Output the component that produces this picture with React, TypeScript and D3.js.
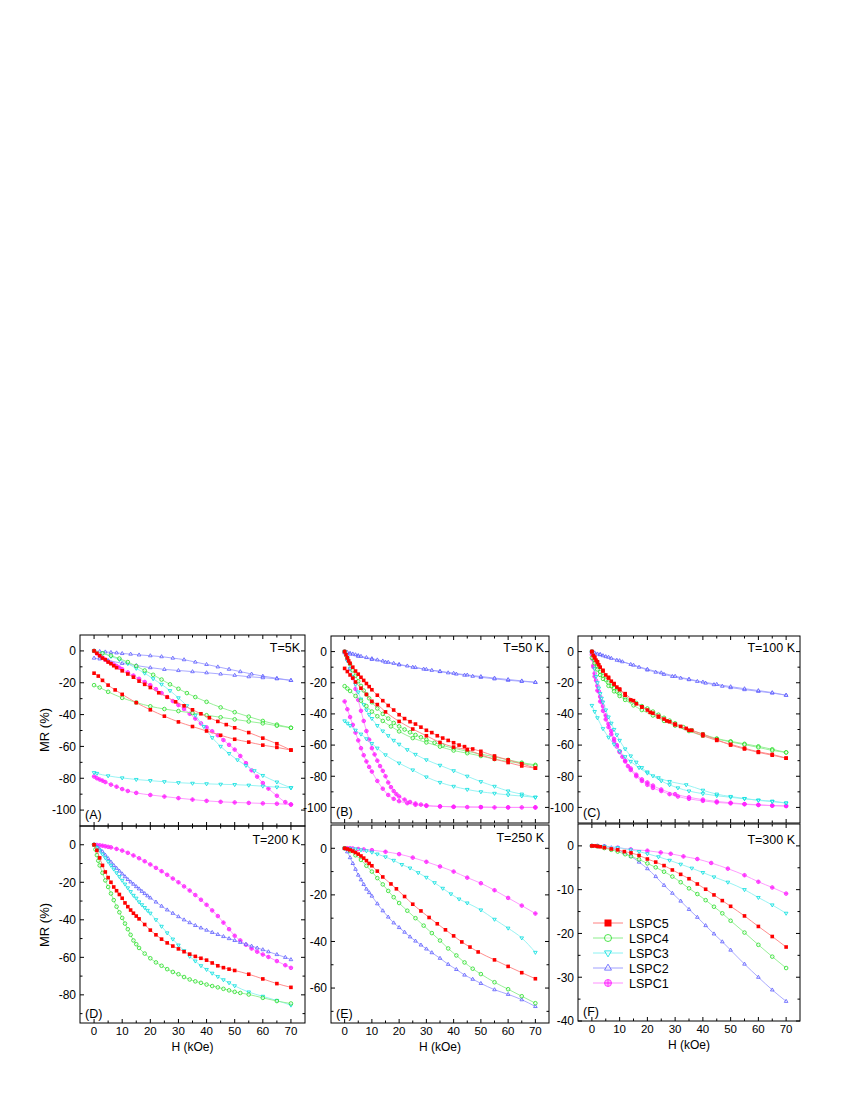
import React from "react";
import * as d3 from "d3";

type Pt = [number, number];

// ---------- tick values ----------
const H_MAJOR = [0, 10, 20, 30, 40, 50, 60, 70];
const H_MINOR = [5, 15, 25, 35, 45, 55, 65];
const Y_MAJOR_110 = [0, -20, -40, -60, -80, -100];
const Y_MINOR_110 = [10, -10, -30, -50, -70, -90, -110];
const Y_MAJOR_D = [0, -20, -40, -60, -80];
const Y_MINOR_D = [10, -10, -30, -50, -70, -90];
const Y_MAJOR_E = [0, -20, -40, -60];
const Y_MINOR_E = [10, -10, -30, -50, -70];
const Y_MAJOR_F = [0, -10, -20, -30, -40];
const Y_MINOR_F = [5, -5, -15, -25, -35];

const SAMPLES = ["LSPC5", "LSPC4", "LSPC3", "LSPC2", "LSPC1"];

// ---------- Panel A : T = 5 K ----------
const A_LSPC5_up: Pt[] = [[0,0],[1,-1.5],[2,-3],[3,-4.5],[4,-5.5],[5,-7],[6,-8],[7,-9.3],[8,-10.5],[10,-12.5],[12,-14.5],[14,-16.5],[16,-19],[18,-21],[20,-23],[23,-26.3],[26,-29],[29,-32],[32,-34.5],[35,-37],[38,-39.5],[41,-42],[44,-44.3],[47,-46.3],[50,-48.3],[55,-51.3],[60,-54.8],[65,-58.3],[70,-62.3]];
const A_LSPC5_dn: Pt[] = [[0,-14],[1.5,-15.8],[3,-18.5],[5,-21.5],[7.5,-24.5],[10,-27.3],[15,-32.5],[20,-37],[25,-41],[30,-44.6],[35,-47.5],[40,-50.3],[45,-53],[50,-55.5],[55,-57.3],[60,-59.2],[65,-60.6],[70,-62.3]];
const A_LSPC4_up: Pt[] = [[0,0],[3,-1.5],[6,-3],[9,-4.8],[12,-7],[15,-9.5],[18,-12.3],[21,-15],[24,-18],[27,-21],[30,-23.8],[33,-26.5],[36,-29],[40,-32],[45,-35.5],[50,-38.5],[55,-41.3],[60,-44],[65,-46.3],[70,-48.3]];
const A_LSPC4_dn: Pt[] = [[0,-21.5],[2,-23],[5,-25.7],[10,-29.5],[15,-32.4],[20,-34.8],[25,-36.5],[30,-37.8],[35,-39],[40,-40.4],[45,-41.7],[50,-43],[55,-44.3],[60,-45.5],[65,-47],[70,-48.3]];
const A_LSPC3_up: Pt[] = [[0,0],[3,-1.5],[6,-3.5],[9,-5.5],[12,-8],[15,-11],[18,-14],[21,-17.5],[24,-21],[27,-25],[30,-29.5],[33,-34.5],[36,-40.5],[39,-47.5],[42,-54.5],[45,-60],[48,-64.5],[51,-68.5],[54,-72],[57,-75.3],[60,-78.3],[65,-82.4],[70,-86]];
const A_LSPC3_dn: Pt[] = [[0,-76.5],[1,-77],[5,-78.5],[10,-79.8],[15,-80.8],[20,-81.5],[25,-82.2],[30,-82.8],[35,-83.2],[40,-83.5],[45,-83.8],[50,-84],[55,-84.4],[60,-85],[65,-85.6],[70,-86]];
const A_LSPC2_up: Pt[] = [[0,0],[2,-0.3],[4,-0.6],[6,-0.9],[8,-1.2],[10,-1.6],[13,-2],[16,-2.5],[20,-3],[24,-3.6],[28,-4.5],[32,-5.5],[36,-7],[40,-8.5],[44,-10],[48,-11.5],[52,-13],[56,-14.5],[60,-15.8],[65,-17.2],[70,-18.5]];
const A_LSPC2_dn: Pt[] = [[0,-4.5],[2,-5],[5,-6],[10,-7.8],[15,-9.2],[20,-10.5],[25,-11.6],[30,-12.3],[35,-13],[40,-13.7],[45,-14.5],[50,-15.3],[55,-16.2],[60,-16.8],[65,-17.5],[70,-18.5]];
const A_LSPC1_up: Pt[] = [[0,0],[1,-1.5],[2,-3],[3,-4.3],[4,-5.5],[5,-6.5],[6,-7.5],[7,-8.5],[8,-9.5],[9,-10.5],[10,-11.5],[12,-13.5],[14,-15.5],[16,-17.5],[18,-19.5],[20,-21.5],[22,-24],[24,-26.5],[26,-29],[28,-31.5],[30,-34],[32,-36.5],[34,-39.5],[36,-42.5],[38,-45.5],[40,-48],[42,-50.5],[44,-53],[46,-56],[48,-59],[50,-62],[52,-66],[54,-70.5],[56,-75],[58,-79],[60,-83],[62,-86.5],[65,-91],[68,-95],[70,-96.5]];
const A_LSPC1_dn: Pt[] = [[0,-78.9],[1,-80],[2,-80.8],[3,-81.5],[4,-82.4],[6,-84],[8,-85.3],[10,-86.8],[12,-88],[15,-89.2],[20,-90.5],[25,-91.5],[30,-92.5],[35,-93.4],[40,-94.2],[45,-94.8],[50,-95.2],[55,-95.5],[60,-95.8],[65,-96],[70,-96.5]];

// ---------- Panel B : T = 50 K ----------
const B_LSPC5_up: Pt[] = [[0,0],[0.5,-2],[1,-4],[1.5,-6],[2,-7.5],[3,-10],[4,-12.5],[5,-14.5],[6,-16.5],[7,-18.5],[8,-20.5],[9,-22.5],[10,-24.5],[12,-28],[14,-31.5],[16,-34.6],[18,-37.5],[20,-40.5],[22,-43],[24,-45],[26,-46.5],[28,-48.5],[30,-50.5],[32,-52],[34,-54],[36,-55.5],[38,-57],[40,-58.5],[42,-60],[44,-61],[47,-62.5],[50,-64],[55,-67],[60,-69.5],[65,-72],[70,-74.8]];
const B_LSPC5_dn: Pt[] = [[0,-10.8],[1,-12.8],[2,-15],[3,-17],[4,-19.5],[6,-23.5],[8,-27.5],[10,-31.9],[12,-34],[15,-38.7],[20,-44.8],[25,-49.7],[30,-54],[35,-58.3],[40,-61.3],[45,-63],[50,-66.3],[55,-69],[60,-71.2],[65,-73.4],[70,-74.8]];
const B_LSPC4_up: Pt[] = [[0,0],[1,-4],[2,-8],[3,-12],[4,-15.5],[5,-19],[6,-22],[7,-25],[8,-27.5],[9,-30],[10,-32.5],[12,-36.5],[14,-40],[16,-43],[18,-45.8],[20,-48],[22,-50],[24,-51.8],[26,-53.5],[28,-55],[30,-56.5],[33,-58.5],[36,-60.2],[40,-62],[45,-64],[50,-65.8],[55,-67.5],[60,-69.5],[65,-71.3],[70,-72.7]];
const B_LSPC4_dn: Pt[] = [[0,-22.2],[1,-23.7],[2,-25.3],[4,-28.5],[6,-31.5],[8,-35],[10,-38.5],[12,-41.5],[14,-44.5],[17,-48],[20,-51.2],[25,-55.5],[30,-58.3],[35,-61],[40,-63.5],[45,-65.2],[50,-67],[55,-69],[60,-70.5],[65,-71.8],[70,-73.3]];
const B_LSPC3_up: Pt[] = [[0,0],[0.5,-3],[1,-6],[2,-11],[3,-16],[4,-21],[5,-26],[6,-30.5],[7,-34],[8,-37.5],[9,-40.5],[10,-43],[12,-47.5],[14,-51],[16,-54],[18,-57],[20,-59.5],[23,-63],[26,-66],[30,-69.5],[35,-73],[40,-76.5],[45,-80],[50,-83.5],[55,-86.5],[60,-89.5],[65,-91.5],[70,-93.5]];
const B_LSPC3_dn: Pt[] = [[0,-44.5],[1,-46],[2,-47.5],[4,-50.5],[6,-53],[8,-56],[10,-59],[12,-62],[15,-66.3],[20,-71.6],[25,-76],[30,-80.5],[35,-84],[40,-86.5],[45,-88.5],[50,-90],[55,-91],[60,-92],[65,-92.7],[70,-93.5]];
const B_LSPC2_up: Pt[] = [[0,0],[1,-0.5],[2,-1],[3,-1.5],[4,-2],[5,-2.5],[6,-3],[8,-3.8],[10,-4.5],[12,-5.3],[14,-6],[16,-6.8],[18,-7.5],[20,-8.2],[23,-9.2],[26,-10.2],[29,-11.2],[32,-12],[35,-12.8],[38,-13.6],[41,-14.4],[44,-15.1],[47,-15.8],[50,-16.5],[55,-17.5],[60,-18.4],[65,-19.1],[70,-19.7]];
const B_LSPC2_dn: Pt[] = [[0,-0.8],[2,-1.6],[5,-3],[10,-5],[15,-6.8],[20,-8.5],[25,-10],[30,-11.4],[35,-12.7],[40,-13.9],[45,-15],[50,-16],[55,-17],[60,-17.9],[65,-18.8],[70,-19.7]];
const B_LSPC1_up: Pt[] = [[0,0],[1,-5],[2,-11],[3,-17],[4,-24],[5,-31],[6,-38],[7,-44.5],[8,-51],[9,-56.5],[10,-62],[11,-66],[12,-70],[13,-73.5],[14,-76.5],[15,-80],[16,-84],[17,-87],[18,-89.5],[19,-91.5],[20,-93],[22,-95],[24,-96.5],[26,-97.5],[28,-98.2],[30,-98.7],[35,-99.3],[40,-99.6],[45,-99.8],[50,-99.8],[55,-100],[60,-100],[65,-100],[70,-100]];
const B_LSPC1_dn: Pt[] = [[0,-32],[1,-37],[2,-42],[3,-47],[4,-52],[5,-57],[6,-62],[7,-66.5],[8,-70.5],[9,-74],[10,-77],[12,-83],[14,-88],[16,-92],[18,-94.5],[20,-96],[23,-97.3],[26,-98.3],[30,-99],[35,-99.4],[40,-99.6],[50,-99.8],[60,-100],[70,-100]];

// ---------- Panel C : T = 100 K ----------
const C_LSPC5_up: Pt[] = [[0,0],[0.5,-2.5],[1,-4],[1.5,-5.5],[2,-7],[2.5,-8.5],[3,-10],[4,-12.5],[5,-15],[6,-17],[7,-19],[8,-21],[9,-22.8],[10,-24.5],[12,-28],[14,-31],[16,-33.5],[18,-35.5],[20,-37.5],[22,-39.5],[24,-41.5],[26,-43.3],[28,-45],[30,-46.5],[32,-48],[34,-49.3],[36,-50.5],[40,-53],[45,-56.5],[50,-60],[55,-62.5],[60,-64.7],[65,-66.5],[70,-68.4]];
const C_LSPC5_dn: Pt[] = [[0,0],[1,-3.5],[2,-6.5],[4,-12],[6,-16.5],[8,-20.5],[10,-24],[12,-27],[15,-31.5],[18,-35.5],[21,-39],[24,-42],[27,-44.5],[30,-47],[35,-50.5],[40,-54],[45,-57],[50,-59.5],[55,-62],[60,-64.3],[65,-66],[70,-68.4]];
const C_LSPC4_up: Pt[] = [[0,0],[0.5,-3],[1,-5.5],[1.5,-7.5],[2,-9.5],[3,-13],[4,-15.5],[5,-18],[6,-20],[7,-22],[8,-23.5],[9,-25.5],[10,-27],[12,-29.5],[14,-31.5],[16,-33],[18,-35],[20,-36.5],[22,-38.5],[24,-40.5],[26,-42.5],[28,-44.3],[30,-46],[33,-48.5],[36,-50.5],[40,-53],[45,-55.8],[50,-57.6],[55,-59.2],[60,-60.8],[65,-62.7],[70,-64.7]];
const C_LSPC4_dn: Pt[] = [[0,-4],[1,-7.5],[2,-11.5],[3,-15],[4,-17.5],[6,-22],[8,-25.5],[10,-28.5],[12,-31],[15,-34.5],[18,-37.5],[22,-41],[26,-44.5],[30,-47.5],[35,-51],[40,-54],[45,-56.1],[50,-58],[55,-59.7],[60,-61.5],[65,-63.4],[70,-64.7]];
const C_LSPC3_up: Pt[] = [[0,0],[0.5,-5],[1,-11],[1.5,-16],[2,-20],[2.5,-23.5],[3,-27],[3.5,-30],[4,-32.5],[5,-37.5],[6,-42],[7,-46],[8,-50],[9,-53.5],[10,-57],[12,-62.5],[14,-67],[16,-71],[18,-74.5],[20,-77.3],[22,-79.8],[25,-83],[28,-85.5],[31,-87.5],[35,-89.5],[40,-91.2],[45,-92.5],[50,-93.5],[55,-94.5],[60,-95.3],[65,-96],[70,-97.2]];
const C_LSPC3_dn: Pt[] = [[0,-34.6],[1,-38.5],[2,-42.5],[4,-49.5],[6,-55],[8,-59.5],[10,-64],[12,-67.5],[14,-70.5],[17,-74.5],[20,-78],[24,-81],[28,-83.4],[34,-85.5],[40,-89],[45,-91.5],[50,-93],[55,-94.3],[60,-95.5],[65,-96.3],[70,-97.2]];
const C_LSPC2_up: Pt[] = [[0,0],[1,-0.8],[2,-1.5],[3,-2],[4,-2.6],[5,-3.2],[7,-4.3],[9,-5.5],[11,-6.5],[14,-8.2],[17,-10],[20,-11.8],[23,-13.2],[26,-14.6],[29,-15.9],[32,-17],[35,-18],[38,-19.1],[41,-20.2],[44,-21.2],[47,-22.2],[50,-23.1],[55,-24.4],[60,-25.5],[65,-26.6],[70,-28]];
const C_LSPC2_dn: Pt[] = [[0,-0.3],[3,-1.8],[6,-3.6],[10,-5.8],[15,-8.7],[20,-11.3],[25,-13.6],[30,-15.8],[35,-17.7],[40,-19.5],[45,-21],[50,-22.5],[55,-23.8],[60,-25],[65,-26.3],[70,-28]];
const C_LSPC1_up: Pt[] = [[0,0],[0.3,-5],[0.6,-10],[1,-14],[1.5,-18.5],[2,-22],[2.5,-25.5],[3,-29],[3.5,-32],[4,-35],[5,-41],[6,-46.5],[7,-51],[8,-56],[9,-60],[10,-64],[11,-67.5],[12,-70.5],[13,-73.5],[14,-76],[16,-80],[18,-83],[20,-85.5],[22,-87.5],[25,-89.5],[28,-91.5],[31,-93],[35,-94.5],[40,-95.8],[45,-96.8],[50,-97.4],[55,-98],[60,-98.5],[65,-98.9],[70,-99.1]];
const C_LSPC1_dn: Pt[] = [[0,-2],[0.5,-9],[1,-16],[2,-25],[3,-32],[4,-38],[5,-43.5],[6,-48.5],[7,-53],[8,-57.5],[9,-61],[10,-64.5],[12,-70],[14,-75],[16,-79],[18,-82],[20,-84],[22,-86],[25,-88.5],[30,-91.5],[35,-93.5],[40,-95],[45,-96.2],[50,-97],[55,-97.8],[60,-98.3],[65,-98.8],[70,-99.1]];

// ---------- Panel D : T = 200 K ----------
const D_LSPC5: Pt[] = [[0,0],[1,-3],[2,-7],[3,-11],[4,-14.5],[5,-17.5],[6,-20],[7,-22.5],[8,-24.5],[9,-26.5],[10,-28.5],[11,-31],[12,-33],[13,-34.8],[14,-36.5],[15,-38],[16,-39.5],[18,-42.5],[20,-45.5],[22,-48],[24,-50.3],[26,-52.3],[28,-54],[30,-55.5],[32,-57],[34,-58.3],[36,-59.5],[38,-60.5],[40,-61.5],[42,-63],[44,-64.5],[46,-65.5],[48,-66.3],[50,-67],[55,-69],[60,-71.5],[65,-74],[70,-76]];
const D_LSPC4: Pt[] = [[0,0],[0.5,-2.5],[1,-5.5],[1.5,-8.5],[2,-11],[3,-15],[4,-19],[5,-22.5],[6,-26],[7,-29.5],[8,-33],[9,-36],[10,-39],[11,-42],[12,-45],[13,-48],[14,-51],[15,-53],[16,-55],[18,-58],[20,-60.5],[22,-62.7],[24,-64.5],[26,-66.3],[28,-67.8],[30,-69],[32,-70.5],[34,-71.8],[36,-72.8],[38,-73.6],[40,-74.5],[42,-75.3],[44,-76],[46,-76.8],[48,-77.6],[50,-78.4],[52,-79],[55,-79.8],[60,-81.6],[65,-83.3],[70,-84.6]];
const D_LSPC3: Pt[] = [[0,0],[1,-1.5],[2,-3],[3,-5],[4,-7],[5,-9],[6,-11],[7,-13],[8,-15],[9,-17],[10,-19],[11,-21],[12,-23],[13,-25],[14,-27],[15,-28.5],[16,-30.5],[17,-32],[18,-33.5],[19,-35],[20,-36.5],[22,-40],[24,-43.5],[26,-47],[28,-50.3],[30,-53.5],[32,-56.5],[34,-59.5],[36,-62],[38,-64.5],[40,-66.5],[42,-68.5],[44,-70.3],[46,-72],[48,-73.6],[50,-75.2],[55,-78.5],[60,-80.8],[65,-83],[70,-85.5]];
const D_LSPC2: Pt[] = [[0,0],[1,-1.2],[2,-2.5],[3,-3.7],[4,-5.5],[5,-7.3],[6,-9.2],[7,-11],[8,-12.5],[9,-14],[10,-15.5],[11,-17],[12,-18.5],[13,-19.8],[14,-21],[15,-22.3],[16,-23.5],[17,-24.8],[18,-26],[19,-27.2],[20,-28.3],[22,-30.5],[24,-32.7],[26,-34.7],[28,-36.5],[30,-38.3],[32,-40],[34,-41.5],[36,-43],[38,-44.3],[40,-45.5],[42,-46.7],[44,-47.8],[46,-48.9],[48,-50],[50,-51],[52,-52],[54,-53],[56,-54],[58,-55],[60,-55.9],[62,-57],[65,-58.5],[68,-60],[70,-61.2]];
const D_LSPC1: Pt[] = [[0,0],[1,-0.1],[2,-0.3],[3,-0.5],[4,-0.8],[5,-1.1],[6,-1.4],[8,-2.2],[10,-3.1],[12,-4.3],[14,-5.7],[16,-7.2],[18,-8.8],[20,-10.5],[22,-12.3],[24,-14.1],[26,-16],[28,-18],[30,-20],[32,-22.2],[34,-24.4],[36,-26.8],[38,-29.3],[40,-32],[42,-35],[44,-38],[46,-41.5],[48,-45],[50,-48.5],[52,-51],[54,-53.3],[56,-55.3],[58,-57],[60,-58.5],[62,-59.8],[65,-62],[68,-64.2],[70,-65.6]];

// ---------- Panel E : T = 250 K ----------
const E_LSPC5: Pt[] = [[0,0],[1,-0.3],[2,-0.7],[3,-1.2],[4,-1.8],[5,-2.5],[6,-3.3],[7,-4.2],[8,-5.3],[9,-6.5],[10,-7.5],[12,-9.8],[14,-12.3],[17,-15.3],[19,-17.4],[22,-20.7],[25,-24],[28,-26.9],[31,-29.7],[34,-32.4],[37,-35],[40,-37.6],[43,-40.2],[46,-42.4],[49,-44.5],[55,-47.9],[60,-50.7],[65,-53.4],[70,-56]];
const E_LSPC4: Pt[] = [[0,0],[2,-1.2],[4,-3],[6,-5],[8,-7.5],[10,-10],[12,-12.8],[14,-15.5],[16,-18.3],[18,-21],[20,-23.5],[23,-26.8],[26,-30],[29,-33.2],[32,-36.4],[35,-39.6],[38,-43],[41,-46],[44,-49],[47,-51.7],[50,-54],[55,-57.5],[60,-60.5],[65,-63.5],[70,-66.5]];
const E_LSPC3: Pt[] = [[0,0],[2,-0.1],[4,-0.3],[6,-0.7],[8,-1.1],[10,-1.7],[12,-2.5],[15,-3.7],[18,-5.2],[21,-7],[24,-8.5],[27,-10.5],[30,-12.5],[33,-14.8],[36,-17.2],[39,-19.6],[42,-21.8],[45,-23.5],[50,-26.5],[55,-30.5],[60,-34.3],[65,-38.5],[70,-44.7]];
const E_LSPC2: Pt[] = [[0,0],[1,-1.5],[2,-4],[3,-6.5],[4,-9],[5,-11.5],[6,-13.5],[7,-15.5],[8,-17.5],[9,-19],[10,-20.5],[12,-23.8],[14,-26.8],[16,-29.5],[18,-32],[20,-34],[22,-36],[24,-38],[26,-39.8],[28,-41.5],[30,-43.2],[32,-44.8],[35,-47.2],[38,-49.8],[41,-52],[44,-54.4],[47,-56.2],[50,-58],[55,-60.7],[60,-62.7],[65,-65],[70,-67.9]];
const E_LSPC1: Pt[] = [[0,0],[1,0],[2,0],[3,-0.1],[5,-0.3],[7,-0.5],[10,-0.8],[15,-1.5],[20,-2.5],[25,-4],[30,-5.8],[35,-7.8],[40,-10],[45,-12.6],[50,-15],[55,-18],[60,-21.3],[65,-24.6],[70,-28]];

// ---------- Panel F : T = 300 K ----------
const F_LSPC5: Pt[] = [[0,0],[1,0],[2,-0.1],[3,-0.2],[4.5,-0.4],[7,-0.7],[9.3,-0.9],[11.7,-1.3],[14.1,-1.6],[17,-2.2],[20,-3],[23,-3.7],[26,-4.5],[29,-5.5],[32,-6.5],[35,-7.5],[38,-8.7],[41,-9.9],[44,-11.2],[47,-12.5],[50,-13.8],[55,-16],[60,-18.4],[65,-20.7],[70,-23.1]];
const F_LSPC4: Pt[] = [[0,0],[2,-0.1],[4.5,-0.5],[7,-0.9],[9.3,-1.3],[12,-1.9],[14.1,-2.4],[17,-3.1],[20,-4],[23,-4.9],[26,-5.9],[29,-7],[32,-8.3],[35,-9.7],[38,-11],[41,-12.4],[44,-13.9],[47,-15.4],[50,-17.1],[55,-19.8],[60,-22.6],[65,-25.3],[70,-27.9]];
const F_LSPC3: Pt[] = [[0,0],[2,0],[4.5,-0.1],[9.3,-0.4],[14,-0.9],[17,-1.3],[20,-1.8],[24,-2.5],[28,-3.3],[32,-4.2],[36,-5.1],[40,-6.1],[44,-7.1],[49,-8.3],[55,-10],[60,-11.8],[65,-13.5],[70,-15.4]];
const F_LSPC2: Pt[] = [[0,0],[2,0],[4.5,-0.1],[7,-0.4],[9.3,-0.9],[11.7,-1.6],[14.1,-2.4],[17,-3.7],[20,-5.2],[23,-7],[26,-9],[29,-10.8],[32,-12.6],[35,-14.5],[38,-16.3],[41,-18.2],[44,-20.1],[47,-21.9],[50,-23.8],[55,-27],[60,-30],[65,-32.9],[70,-35.5]];
const F_LSPC1: Pt[] = [[0,0],[2,0],[4.5,-0.1],[9.3,-0.4],[14,-0.8],[20,-1.1],[24.8,-1.5],[28.4,-1.8],[33,-2.4],[38,-3],[43,-3.9],[49,-5.2],[55,-6.7],[60,-8.2],[65,-9.5],[70,-10.9]];

// ---------- styles ----------
const STYLE: Record<string, { color: string; line: string; marker: string }> = {
  LSPC5: { color: "#ff0000", line: "#ff8080", marker: "square" },
  LSPC4: { color: "#22dd22", line: "#8cee8c", marker: "circle" },
  LSPC3: { color: "#00dede", line: "#8cf2f2", marker: "tdown" },
  LSPC2: { color: "#5a5aff", line: "#a0a0ff", marker: "tup" },
  LSPC1: { color: "#ff22ff", line: "#ff90ff", marker: "crosscircle" },
};

type Series = { name: string; branches: Pt[][] };
type PanelCfg = {
  id: string; title: string; x0: number; x1: number; y0: number; y1: number;
  yDomain: [number, number]; yMajor: number[]; yMinor: number[];
  xLabels: boolean; series: Series[]; legend?: boolean;
  titleY: number; idY: number;
};

const PANELS: PanelCfg[] = [
  { id: "(A)", title: "T=5K", x0: 80, x1: 305, y0: 635, y1: 826, yDomain: [-110, 10], yMajor: Y_MAJOR_110, yMinor: Y_MINOR_110, xLabels: false, titleY: 652, idY: 819,
    series: [
      { name: "LSPC1", branches: [A_LSPC1_up, A_LSPC1_dn] },
      { name: "LSPC2", branches: [A_LSPC2_up, A_LSPC2_dn] },
      { name: "LSPC3", branches: [A_LSPC3_up, A_LSPC3_dn] },
      { name: "LSPC4", branches: [A_LSPC4_up, A_LSPC4_dn] },
      { name: "LSPC5", branches: [A_LSPC5_up, A_LSPC5_dn] },
    ] },
  { id: "(B)", title: "T=50 K", x0: 331, x1: 549, y0: 636, y1: 823, yDomain: [-110, 10], yMajor: Y_MAJOR_110, yMinor: Y_MINOR_110, xLabels: false, titleY: 652, idY: 816,
    series: [
      { name: "LSPC1", branches: [B_LSPC1_up, B_LSPC1_dn] },
      { name: "LSPC2", branches: [B_LSPC2_up, B_LSPC2_dn] },
      { name: "LSPC3", branches: [B_LSPC3_up, B_LSPC3_dn] },
      { name: "LSPC4", branches: [B_LSPC4_up, B_LSPC4_dn] },
      { name: "LSPC5", branches: [B_LSPC5_up, B_LSPC5_dn] },
    ] },
  { id: "(C)", title: "T=100 K", x0: 578, x1: 800, y0: 636, y1: 823, yDomain: [-110, 10], yMajor: Y_MAJOR_110, yMinor: Y_MINOR_110, xLabels: false, titleY: 652, idY: 817,
    series: [
      { name: "LSPC1", branches: [C_LSPC1_up, C_LSPC1_dn] },
      { name: "LSPC2", branches: [C_LSPC2_up, C_LSPC2_dn] },
      { name: "LSPC3", branches: [C_LSPC3_up, C_LSPC3_dn] },
      { name: "LSPC4", branches: [C_LSPC4_up, C_LSPC4_dn] },
      { name: "LSPC5", branches: [C_LSPC5_up, C_LSPC5_dn] },
    ] },
  { id: "(D)", title: "T=200 K", x0: 80, x1: 305, y0: 826, y1: 1023, yDomain: [-95, 10], yMajor: Y_MAJOR_D, yMinor: Y_MINOR_D, xLabels: true, titleY: 844, idY: 1018,
    series: [
      { name: "LSPC1", branches: [D_LSPC1] },
      { name: "LSPC2", branches: [D_LSPC2] },
      { name: "LSPC3", branches: [D_LSPC3] },
      { name: "LSPC4", branches: [D_LSPC4] },
      { name: "LSPC5", branches: [D_LSPC5] },
    ] },
  { id: "(E)", title: "T=250 K", x0: 331, x1: 549, y0: 825, y1: 1023, yDomain: [-75, 10], yMajor: Y_MAJOR_E, yMinor: Y_MINOR_E, xLabels: true, titleY: 842, idY: 1018,
    series: [
      { name: "LSPC1", branches: [E_LSPC1] },
      { name: "LSPC2", branches: [E_LSPC2] },
      { name: "LSPC3", branches: [E_LSPC3] },
      { name: "LSPC4", branches: [E_LSPC4] },
      { name: "LSPC5", branches: [E_LSPC5] },
    ] },
  { id: "(F)", title: "T=300 K", x0: 578, x1: 800, y0: 824, y1: 1021, yDomain: [-40, 5], yMajor: Y_MAJOR_F, yMinor: Y_MINOR_F, xLabels: true, titleY: 844, idY: 1016, legend: true,
    series: [
      { name: "LSPC1", branches: [F_LSPC1] },
      { name: "LSPC2", branches: [F_LSPC2] },
      { name: "LSPC3", branches: [F_LSPC3] },
      { name: "LSPC4", branches: [F_LSPC4] },
      { name: "LSPC5", branches: [F_LSPC5] },
    ] },
];

const FONT = "'Liberation Sans', Arial, sans-serif";

function Marker({ type, x, y, color, s }: { type: string; x: number; y: number; color: string; s: number }) {
  const h = s / 2;
  switch (type) {
    case "square":
      return <rect x={x - h} y={y - h} width={s} height={s} fill={color} />;
    case "circle":
      return <circle cx={x} cy={y} r={h} fill="white" fillOpacity={0.5} stroke={color} strokeWidth={0.8} />;
    case "tdown":
      return <path d={`M${x - h},${y - h * 0.6}L${x + h},${y - h * 0.6}L${x},${y + h * 1.1}Z`} fill="white" fillOpacity={0.5} stroke={color} strokeWidth={0.8} />;
    case "tup":
      return <path d={`M${x - h},${y + h * 0.6}L${x + h},${y + h * 0.6}L${x},${y - h * 1.1}Z`} fill="white" fillOpacity={0.5} stroke={color} strokeWidth={0.8} />;
    default:
      return (
        <g>
          <circle cx={x} cy={y} r={h} fill={color} fillOpacity={0.35} stroke={color} strokeWidth={0.8} />
          <path d={`M${x - h},${y}H${x + h}M${x},${y - h}V${y + h}`} stroke={color} strokeWidth={0.8} />
        </g>
      );
  }
}

function Panel({ p }: { p: PanelCfg }) {
  const x = d3.scaleLinear().domain([-5, 75]).range([p.x0, p.x1]);
  const y = d3.scaleLinear().domain(p.yDomain).range([p.y1, p.y0]);
  const line = d3.line<Pt>().x((d) => x(d[0])).y((d) => y(d[1])).curve(d3.curveMonotoneX);
  const TL = 4, TS = 2.5;
  const cid = `clip${p.id.replace(/[()]/g, "")}`;
  return (
    <g>
      <defs>
        <clipPath id={cid}>
          <rect x={p.x0} y={p.y0} width={p.x1 - p.x0} height={p.y1 - p.y0} />
        </clipPath>
      </defs>
      <g clipPath={`url(#${cid})`}>
        {p.series.map((s) => {
          const st = STYLE[s.name];
          return (
            <g key={s.name}>
              {s.branches.map((b, i) => (
                <path key={i} d={line(b) || ""} fill="none" stroke={st.line} strokeWidth={0.9} />
              ))}
              {s.branches.map((b, i) =>
                b.map((d, j) => <Marker key={`${i}-${j}`} type={st.marker} x={x(d[0])} y={y(d[1])} color={st.color} s={3.6} />)
              )}
            </g>
          );
        })}
      </g>
      <rect x={p.x0} y={p.y0} width={p.x1 - p.x0} height={p.y1 - p.y0} fill="none" stroke="#000" strokeWidth={1} />
      {H_MAJOR.map((v) => (
        <g key={`xm${v}`}>
          <line x1={x(v)} x2={x(v)} y1={p.y1} y2={p.y1 - TL} stroke="#000" />
          <line x1={x(v)} x2={x(v)} y1={p.y0} y2={p.y0 + TL} stroke="#000" />
          {p.xLabels && (
            <text x={x(v)} y={p.y1 + 12} textAnchor="middle" fontSize={11.5} fontFamily={FONT}>{v}</text>
          )}
        </g>
      ))}
      {H_MINOR.map((v) => (
        <g key={`xn${v}`}>
          <line x1={x(v)} x2={x(v)} y1={p.y1} y2={p.y1 - TS} stroke="#000" />
          <line x1={x(v)} x2={x(v)} y1={p.y0} y2={p.y0 + TS} stroke="#000" />
        </g>
      ))}
      {p.yMajor.map((v) => (
        <g key={`ym${v}`}>
          <line x1={p.x0} x2={p.x0 + TL} y1={y(v)} y2={y(v)} stroke="#000" />
          <line x1={p.x1} x2={p.x1 - TL} y1={y(v)} y2={y(v)} stroke="#000" />
          <text x={p.x0 - 4} y={y(v) + 4.3} textAnchor="end" fontSize={12} fontFamily={FONT}>{v}</text>
        </g>
      ))}
      {p.yMinor.filter((v) => v > p.yDomain[0] && v < p.yDomain[1]).map((v) => (
        <g key={`yn${v}`}>
          <line x1={p.x0} x2={p.x0 + TS} y1={y(v)} y2={y(v)} stroke="#000" />
          <line x1={p.x1} x2={p.x1 - TS} y1={y(v)} y2={y(v)} stroke="#000" />
        </g>
      ))}
      <text x={p.x1 - 5} y={p.titleY} textAnchor="end" fontSize={12.5} fontFamily={FONT}>{p.title}</text>
      <text x={p.x0 + 5} y={p.idY} fontSize={12.5} fontFamily={FONT}>{p.id}</text>
      {p.xLabels && (
        <text x={(p.x0 + p.x1) / 2} y={p.y1 + 28} textAnchor="middle" fontSize={12} fontFamily={FONT}>H (kOe)</text>
      )}
      {p.legend && (
        <g>
          {SAMPLES.map((name, i) => {
            const st = STYLE[name];
            const ly = 923 + i * 15;
            return (
              <g key={name}>
                <line x1={593} x2={623} y1={ly} y2={ly} stroke={st.line} strokeWidth={1} />
                <Marker type={st.marker} x={608} y={ly} color={st.color} s={7} />
                <text x={629} y={ly + 4.5} fontSize={12.5} fontFamily={FONT}>{name}</text>
              </g>
            );
          })}
        </g>
      )}
    </g>
  );
}

export default function App() {
  return (
    <svg width={850} height={1100} style={{ position: "absolute", left: 0, top: 0, background: "#fff" }}>
      <rect x={0} y={0} width={850} height={1100} fill="#fff" />
      {PANELS.map((p) => (
        <Panel key={p.id} p={p} />
      ))}
      <text transform="translate(49,730) rotate(-90)" textAnchor="middle" fontSize={13} fontFamily={FONT}>MR (%)</text>
      <text transform="translate(49,925) rotate(-90)" textAnchor="middle" fontSize={13} fontFamily={FONT}>MR (%)</text>
    </svg>
  );
}
